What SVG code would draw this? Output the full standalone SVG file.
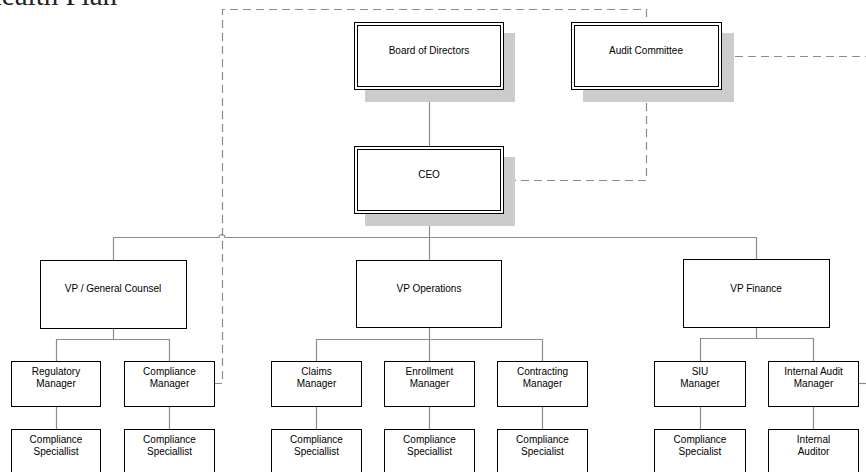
<svg xmlns="http://www.w3.org/2000/svg" width="866" height="472" viewBox="0 0 866 472">
<style>
.t{font-family:"Liberation Sans",Arial,sans-serif;font-size:10px;fill:#000;text-anchor:middle}
.title{font-family:"Liberation Serif","Times New Roman",serif;font-size:29px;fill:#222;text-anchor:end}
.sh{fill:#cccccc}
.bx{fill:#fff;stroke:#000;stroke-width:1}
.in{fill:none;stroke:#000;stroke-width:1}
.c{fill:none;stroke:#8c8c8c;stroke-width:1.2}
.d{fill:none;stroke:#8c8c8c;stroke-width:1.2;stroke-dasharray:8,5}
</style>
<rect width="866" height="472" fill="#fff"/>
<text class="title" x="117" y="5">Health Plan</text>
<g id="connectors">
<path class="c" d="M429.5,90 V146"/>
<path class="c" d="M429.5,214 V237"/>
<path class="c" d="M113.5,260 V237.5 H219 A3,3 0 0 1 225,237.5 H756.5 V260"/>
<path class="c" d="M429.5,237.5 V260"/>
<path class="c" d="M113.5,329 V339.5 M56.5,362 V339.5 H169.5 V362"/>
<path class="c" d="M56.5,406 V429 M169.5,406 V429"/>
<path class="c" d="M429.5,328 V339.5 M316.5,362 V339.5 H542.5 V362 M429.5,339.5 V362"/>
<path class="c" d="M316.5,406 V429 M429.5,406 V429 M542.5,406 V429"/>
<path class="c" d="M756.5,327 V338.5 M700.5,362 V338.5 H813.5 V362"/>
<path class="c" d="M700.5,406 V429 M813.5,406 V429"/>
<path class="c" d="M858,383.5 H866"/>
<path class="d" d="M214,383.5 H222.5 V9.5 H646.5 V22"/>
<path class="d" d="M646.5,90 V180.5 H503"/>
<path class="d" d="M722,56.5 H866"/>
</g>
<g id="board">
<rect class="sh" x="365" y="33" width="150" height="69"/>
<rect class="bx" x="354.5" y="22.5" width="149" height="67"/>
<rect class="in" x="357.5" y="25.5" width="143" height="61"/>
<text class="t" x="429" y="53.5">Board of Directors</text>
</g>
<g id="audit">
<rect class="sh" x="583" y="33" width="151" height="69"/>
<rect class="bx" x="571.5" y="22.5" width="150" height="67"/>
<rect class="in" x="574.5" y="25.5" width="144" height="61"/>
<text class="t" x="646" y="53.5">Audit Committee</text>
</g>
<g id="ceo">
<rect class="sh" x="365" y="157" width="150" height="69"/>
<rect class="bx" x="354.5" y="146.5" width="149" height="67"/>
<rect class="in" x="357.5" y="149.5" width="143" height="61"/>
<text class="t" x="429" y="177.5">CEO</text>
</g>
<g id="vp-gc">
<rect class="bx" x="40.5" y="260.5" width="146" height="68"/>
<text class="t" x="113" y="291.5">VP / General Counsel</text>
</g>
<g id="vp-ops">
<rect class="bx" x="356.5" y="260.5" width="145" height="67"/>
<text class="t" x="429" y="291.5">VP Operations</text>
</g>
<g id="vp-fin">
<rect class="bx" x="683.5" y="259.5" width="146" height="68"/>
<text class="t" x="756" y="291.5">VP Finance</text>
</g>
<g id="reg-mgr">
<rect class="bx" x="11.5" y="361.5" width="89" height="45"/>
<text class="t" x="56" y="374.5">Regulatory</text><text class="t" x="56" y="386.5">Manager</text>
</g>
<g id="comp-mgr">
<rect class="bx" x="124.5" y="361.5" width="90" height="45"/>
<text class="t" x="169.5" y="374.5">Compliance</text><text class="t" x="169.5" y="386.5">Manager</text>
</g>
<g id="claims-mgr">
<rect class="bx" x="271.5" y="361.5" width="90" height="45"/>
<text class="t" x="316.5" y="374.5">Claims</text><text class="t" x="316.5" y="386.5">Manager</text>
</g>
<g id="enroll-mgr">
<rect class="bx" x="384.5" y="361.5" width="90" height="45"/>
<text class="t" x="429.5" y="374.5">Enrollment</text><text class="t" x="429.5" y="386.5">Manager</text>
</g>
<g id="contract-mgr">
<rect class="bx" x="497.5" y="361.5" width="90" height="45"/>
<text class="t" x="542.5" y="374.5">Contracting</text><text class="t" x="542.5" y="386.5">Manager</text>
</g>
<g id="siu-mgr">
<rect class="bx" x="654.5" y="361.5" width="91" height="45"/>
<text class="t" x="700" y="374.5">SIU</text><text class="t" x="700" y="386.5">Manager</text>
</g>
<g id="ia-mgr">
<rect class="bx" x="768.5" y="361.5" width="90" height="45"/>
<text class="t" x="813.5" y="374.5">Internal Audit</text><text class="t" x="813.5" y="386.5">Manager</text>
</g>
<g id="spec1">
<rect class="bx" x="11.5" y="429.5" width="89" height="60"/>
<text class="t" x="56" y="442.5">Compliance</text><text class="t" x="56" y="454.5">Speciallist</text>
</g>
<g id="spec2">
<rect class="bx" x="124.5" y="429.5" width="90" height="60"/>
<text class="t" x="169.5" y="442.5">Compliance</text><text class="t" x="169.5" y="454.5">Speciallist</text>
</g>
<g id="spec3">
<rect class="bx" x="271.5" y="429.5" width="90" height="60"/>
<text class="t" x="316.5" y="442.5">Compliance</text><text class="t" x="316.5" y="454.5">Speciallist</text>
</g>
<g id="spec4">
<rect class="bx" x="384.5" y="429.5" width="90" height="60"/>
<text class="t" x="429.5" y="442.5">Compliance</text><text class="t" x="429.5" y="454.5">Speciallist</text>
</g>
<g id="spec5">
<rect class="bx" x="497.5" y="429.5" width="90" height="60"/>
<text class="t" x="542.5" y="442.5">Compliance</text><text class="t" x="542.5" y="454.5">Specialist</text>
</g>
<g id="spec6">
<rect class="bx" x="654.5" y="429.5" width="91" height="60"/>
<text class="t" x="700" y="442.5">Compliance</text><text class="t" x="700" y="454.5">Specialist</text>
</g>
<g id="auditor">
<rect class="bx" x="768.5" y="429.5" width="90" height="60"/>
<text class="t" x="813.5" y="442.5">Internal</text><text class="t" x="813.5" y="454.5">Auditor</text>
</g>
</svg>
